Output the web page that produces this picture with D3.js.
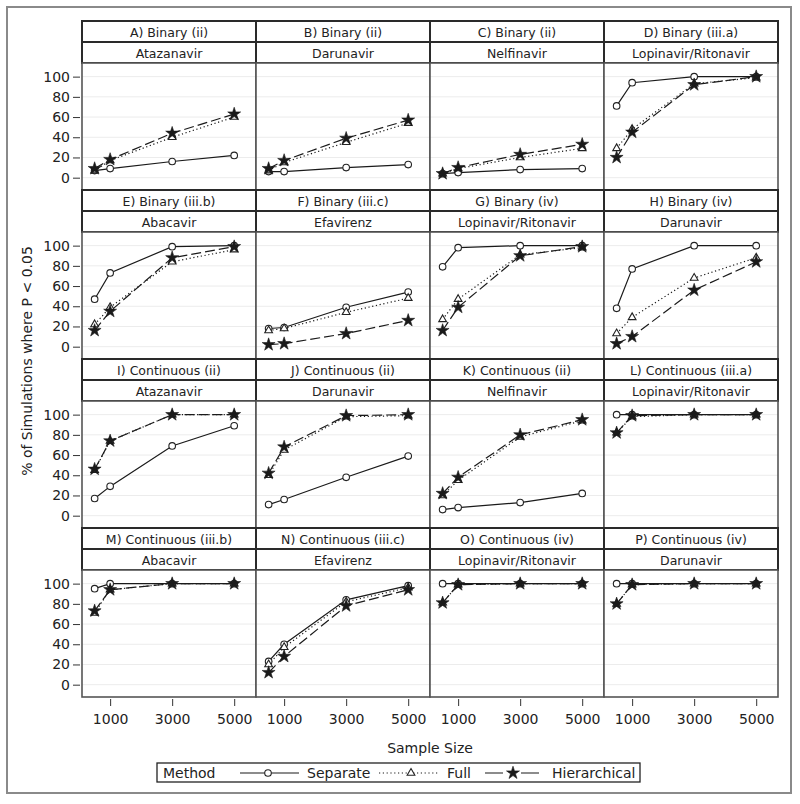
<!DOCTYPE html>
<html><head><meta charset="utf-8">
<script src="https://cdn.jsdelivr.net/npm/d3@7"></script>
<style>body{margin:0;background:#fff}svg{display:block}</style>
</head><body><svg id="c" width="800" height="804"></svg>
<script>
const sampleSizes = [500, 1000, 3000, 5000];
const xTickValues = [1000, 3000, 5000];
const yTickValues = [0, 20, 40, 60, 80, 100];
const panelTitles = ["A) Binary (ii)","B) Binary (ii)","C) Binary (ii)","D) Binary (iii.a)",
  "E) Binary (iii.b)","F) Binary (iii.c)","G) Binary (iv)","H) Binary (iv)",
  "I) Continuous (ii)","J) Continuous (ii)","K) Continuous (ii)","L) Continuous (iii.a)",
  "M) Continuous (iii.b)","N) Continuous (iii.c)","O) Continuous (iv)","P) Continuous (iv)"];
const drugNames = ["Atazanavir","Darunavir","Nelfinavir","Lopinavir/Ritonavir",
  "Abacavir","Efavirenz","Lopinavir/Ritonavir","Darunavir",
  "Atazanavir","Darunavir","Nelfinavir","Lopinavir/Ritonavir",
  "Abacavir","Efavirenz","Lopinavir/Ritonavir","Darunavir"];
const separateValues = [
  [7,9,16,22],[6,6,10,13],[4,5,8,9],[71,94,100,100],
  [47,73,99,100],[18,19,39,54],[79,98,100,100],[38,77,100,100],
  [17,29,69,89],[11,16,38,59],[6,8,13,22],[100,100,100,100],
  [95,100,100,100],[23,40,84,98],[100,100,100,100],[100,100,100,100]];
const fullValues = [
  [7,17,40,60],[7,15,35,54],[4,9,20,29],[29,48,93,99],
  [22,39,84,96],[16,18,34,48],[27,47,91,98],[13,29,68,88],
  [45,74,100,100],[40,65,98,99],[20,35,78,94],[82,98,100,100],
  [71,94,100,100],[20,37,82,96],[81,99,100,100],[80,99,100,100]];
const hierarchicalValues = [
  [9,18,44,63],[9,17,39,57],[4,10,23,33],[20,45,92,100],
  [16,35,88,99],[2,3,13,26],[16,39,90,99],[3,10,56,84],
  [46,74,100,100],[42,68,99,100],[22,38,80,95],[82,99,100,100],
  [73,94,100,100],[12,28,78,94],[81,99,100,100],[80,99,100,100]];
const methodNames = ["Separate","Full","Hierarchical"];

const svg = d3.select("#c");
const FONT = "DejaVu Sans, Verdana, sans-serif";
const colLeft0 = 82, colW = 174, rowTop0 = 21, rowStep = 169, hdrH = 21, plotH = 127;

// outer frame
svg.append("rect").attr("x",7).attr("y",7).attr("width",784).attr("height",786)
  .attr("fill","none").attr("stroke","#8a8a8a").attr("stroke-width",2);

const x = d3.scaleLinear().domain([93, 5703]).range([0, colW]);
const y = d3.scaleLinear().domain([-12.2, 113.5]).range([plotH, 0]);

const styles = [
  {dash:null, sym:"circle"},
  {dash:"1.2,2.6", sym:"triangle"},
  {dash:"10,4", sym:"star"}];
const seriesData = [separateValues, fullValues, hierarchicalValues];

function drawMarker(g, type, cx, cy) {
  if (type === "circle") {
    g.append("circle").attr("cx",cx).attr("cy",cy).attr("r",3.3)
      .attr("fill","#fff").attr("stroke","#222").attr("stroke-width",1.1);
  } else if (type === "triangle") {
    g.append("path").attr("d", d3.symbol().type(d3.symbolTriangle).size(26)())
      .attr("transform",`translate(${cx},${cy})`)
      .attr("fill","#fff").attr("stroke","#222").attr("stroke-width",1.1);
  } else {
    g.append("path").attr("d", d3.symbol().type(d3.symbolStar).size(52)())
      .attr("transform",`translate(${cx},${cy})`)
      .attr("fill","#1a1a1a").attr("stroke","#1a1a1a").attr("stroke-width",0.6);
  }
}

for (let i = 0; i < 16; i++) {
  const r = Math.floor(i/4), c = i % 4;
  const left = colLeft0 + c*colW, top = rowTop0 + r*rowStep;
  const g = svg.append("g").attr("transform",`translate(${left},${top})`);
  // headers
  [panelTitles[i], drugNames[i]].forEach((t,k) => {
    g.append("rect").attr("x",0).attr("y",k*hdrH).attr("width",colW).attr("height",hdrH)
      .attr("fill","#fff").attr("stroke","#2a2a2a").attr("stroke-width",2);
    g.append("text").attr("x",colW/2).attr("y",k*hdrH+hdrH/2+0.5)
      .attr("text-anchor","middle").attr("dominant-baseline","central")
      .attr("font-family",FONT).attr("font-size",12.5).attr("fill","#222").text(t);
  });
  const p = g.append("g").attr("transform",`translate(0,${2*hdrH})`);
  p.append("rect").attr("width",colW).attr("height",plotH).attr("fill","#fff");
  p.selectAll("line.grid").data(yTickValues).enter().append("line")
    .attr("x1",0).attr("x2",colW).attr("y1",d=>y(d)).attr("y2",d=>y(d))
    .attr("stroke","#ececec").attr("stroke-width",1);
  seriesData.forEach((vals, s) => {
    const pts = sampleSizes.map((n,k)=>[x(n), y(vals[i][k])]);
    const path = p.append("path").attr("d", d3.line()(pts))
      .attr("fill","none").attr("stroke","#1a1a1a").attr("stroke-width",1.2);
    if (styles[s].dash) path.attr("stroke-dasharray", styles[s].dash);
  });
  seriesData.forEach((vals, s) => {
    sampleSizes.forEach((n,k)=> drawMarker(p, styles[s].sym, x(n), y(vals[i][k])));
  });
  p.append("rect").attr("width",colW).attr("height",plotH).attr("fill","none")
    .attr("stroke","#555").attr("stroke-width",1.6);
  if (c === 0) {
    const ax = svg.append("g").attr("transform",`translate(80,${top+2*hdrH})`)
      .call(d3.axisLeft(y).tickValues(yTickValues).tickSize(7).tickPadding(3));
    ax.select(".domain").remove();
    ax.selectAll("line").attr("stroke","#333");
    ax.selectAll("text").attr("font-family",FONT).attr("font-size",14).attr("fill","#222");
  }
  if (r === 3) {
    const ax = svg.append("g").attr("transform",`translate(${left},${top+2*hdrH+plotH+2})`)
      .call(d3.axisBottom(x).tickValues(xTickValues).tickFormat(d3.format("d")).tickSize(7).tickPadding(8));
    ax.select(".domain").remove();
    ax.selectAll("line").attr("stroke","#333");
    ax.selectAll("text").attr("font-family",FONT).attr("font-size",14).attr("fill","#222");
  }
}

svg.append("text").attr("transform","translate(27,361) rotate(-90)")
  .attr("text-anchor","middle").attr("dominant-baseline","central")
  .attr("font-family",FONT).attr("font-size",14).attr("fill","#222")
  .text("% of Simulations where P < 0.05");
svg.append("text").attr("x",430).attr("y",748).attr("text-anchor","middle")
  .attr("dominant-baseline","central").attr("font-family",FONT).attr("font-size",14)
  .attr("fill","#222").text("Sample Size");

// legend
const lg = svg.append("g");
lg.append("rect").attr("x",157).attr("y",763).attr("width",483).attr("height",19)
  .attr("fill","#fff").attr("stroke","#222").attr("stroke-width",1.3);
const ly = 773;
lg.append("text").attr("x",163).attr("y",ly).attr("dominant-baseline","central")
  .attr("font-family",FONT).attr("font-size",14).attr("fill","#222").text("Method");
const legItems = [{x1:240,x2:299,mx:268,tx:307},{x1:379,x2:439,mx:411,tx:447},{x1:485,x2:539,mx:513,tx:552}];
legItems.forEach((it,s)=>{
  const ln = lg.append("line").attr("x1",it.x1).attr("x2",it.x2).attr("y1",ly).attr("y2",ly)
    .attr("stroke","#1a1a1a").attr("stroke-width",1.2);
  if (s===1) ln.attr("stroke-dasharray","1.2,2.6");
  if (s===2) ln.attr("stroke-dasharray","18,18");
  drawMarker(lg, styles[s].sym, it.mx, ly);
  lg.append("text").attr("x",it.tx).attr("y",ly).attr("dominant-baseline","central")
    .attr("font-family",FONT).attr("font-size",14).attr("fill","#222").text(methodNames[s]);
});
</script></body></html>
